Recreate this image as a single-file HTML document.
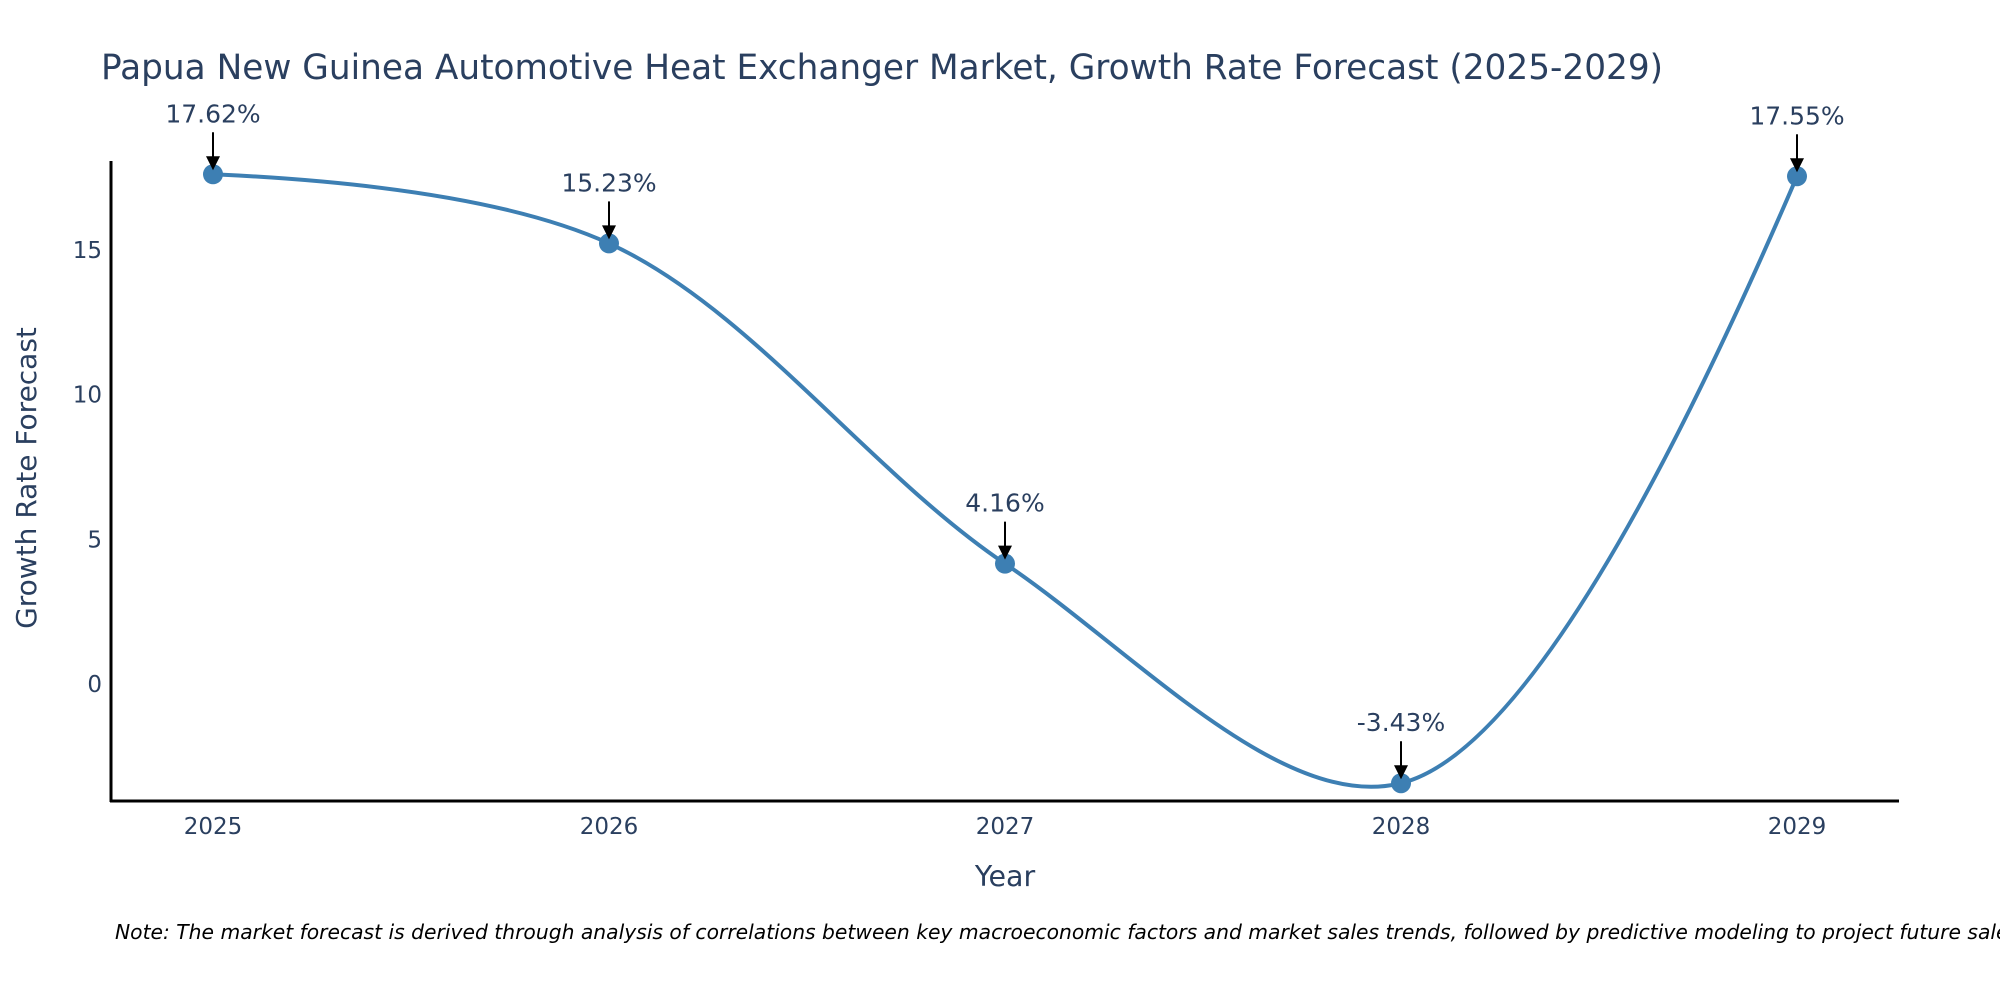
<!DOCTYPE html>
<html><head><meta charset="utf-8"><style>
body{margin:0;background:#fff;}
svg{display:block;font-family:"DejaVu Sans","Liberation Sans",sans-serif;}
</style></head><body>
<svg id="chart" width="2000" height="1000">
<text x="101" y="79" font-size="34.3" fill="#2a3f5f">Papua New Guinea Automotive Heat Exchanger Market, Growth Rate Forecast (2025-2029)</text>
<g id="yticks"></g>
<g id="xticks"></g>
<path id="line" fill="none" stroke="#3d7fb3" stroke-width="4"></path>
<g id="points"></g>
<g id="annos"></g>
<line x1="111" y1="161" x2="111" y2="802" stroke="#000" stroke-width="3"/>
<line x1="110" y1="801" x2="1899" y2="801" stroke="#000" stroke-width="3"/>
<text transform="translate(36,478) rotate(-90)" text-anchor="middle" font-size="28" fill="#2a3f5f">Growth Rate Forecast</text>
<text x="1005" y="886" text-anchor="middle" font-size="28.5" fill="#2a3f5f">Year</text>
<text x="115" y="939" font-size="20.3" font-style="italic" fill="#000">Note: The market forecast is derived through analysis of correlations between key macroeconomic factors and market sales trends, followed by predictive modeling to project future sales</text>
</svg>
<script>
const years = [2025, 2026, 2027, 2028, 2029];
const growth = [17.62, 15.23, 4.16, -3.43, 17.55];
const labels = ["17.62%", "15.23%", "4.16%", "-3.43%", "17.55%"];
const yTicks = [0, 5, 10, 15];

const NS = "http://www.w3.org/2000/svg";
function xs(i){ return 213 + (years[i]-years[0]) * 396; }
function ys(v){ return 684 - v * 28.93; }
function mk(tag, attrs, parent){ const e=document.createElementNS(NS,tag); for(const k in attrs) e.setAttribute(k,attrs[k]); parent.appendChild(e); return e; }

const yt = document.getElementById('yticks');
yTicks.forEach(t=>{
  const e = mk('text',{x:102,y:ys(t)+8,'text-anchor':'end','font-size':23,fill:'#2a3f5f'},yt);
  
  
  e.textContent = t;
});
const xt = document.getElementById('xticks');
years.forEach((y,i)=>{
  const e = mk('text',{x:xs(i),y:834,'text-anchor':'middle','font-size':23,fill:'#2a3f5f'},xt);
  
  
  e.textContent = y;
});

// plotly-style spline
const P = growth.map((v,i)=>[xs(i), ys(v)]);
function tangent(a,b,c,s){
  const d1x=a[0]-b[0], d1y=a[1]-b[1], d2x=c[0]-b[0], d2y=c[1]-b[1];
  const d1a=Math.pow(d1x*d1x+d1y*d1y,0.25), d2a=Math.pow(d2x*d2x+d2y*d2y,0.25);
  const nx=(d2a*d2a*d1x-d1a*d1a*d2x)*s, ny=(d2a*d2a*d1y-d1a*d1a*d2y)*s;
  const den1=3*d2a*(d1a+d2a), den2=3*d1a*(d1a+d2a);
  return [[b[0]+nx/den1,b[1]+ny/den1],[b[0]-nx/den2,b[1]-ny/den2]];
}
const T=[];
for(let i=1;i<P.length-1;i++) T.push(tangent(P[i-1],P[i],P[i+1],1));
let d='M'+P[0]+'Q'+T[0][0]+' '+P[1];
for(let i=2;i<P.length-1;i++) d+='C'+T[i-2][1]+' '+T[i-1][0]+' '+P[i];
d+='Q'+T[P.length-3][1]+' '+P[P.length-1];
document.getElementById('line').setAttribute('d', d);

const pts = document.getElementById('points');
const an = document.getElementById('annos');
P.forEach((p,i)=>{
  const c = mk('circle',{cx:p[0],cy:p[1],r:10,fill:'#3d7fb3'},pts);
  
  
  const l = mk('line',{x1:p[0],y1:p[1]-42,x2:p[0],y2:p[1]-16,stroke:'#000','stroke-width':2},an);
  
  
  const h = mk('polygon',{points:`${p[0]-7},${p[1]-18} ${p[0]+7},${p[1]-18} ${p[0]},${p[1]-4}`,fill:'#000'},an);
  
  
  const t = mk('text',{x:p[0],y:p[1]-52,'text-anchor':'middle','font-size':25,fill:'#2a3f5f'},an);
  
  
  t.textContent = labels[i];
});
</script>
</body></html>
